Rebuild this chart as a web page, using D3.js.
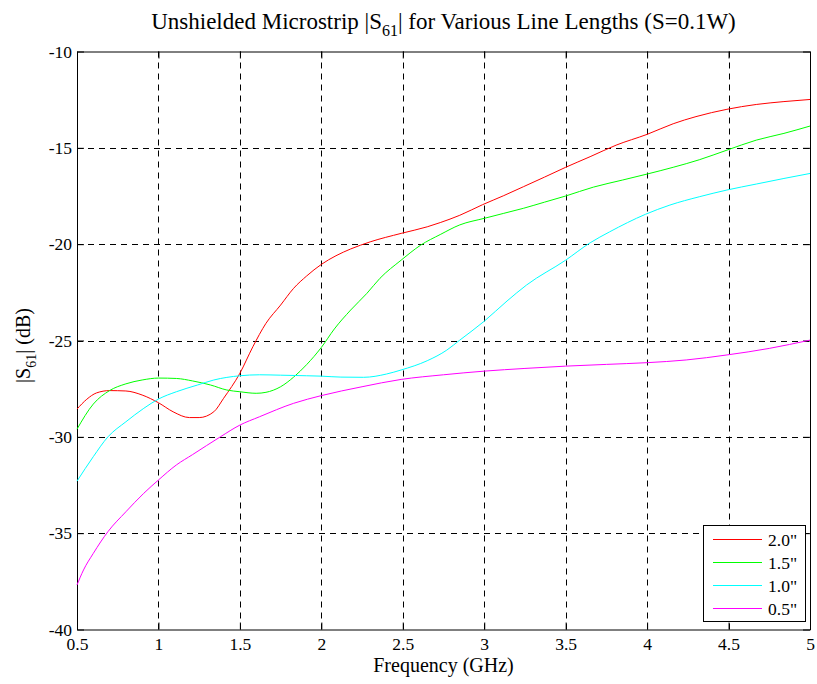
<!DOCTYPE html>
<html><head><meta charset="utf-8">
<script src="https://cdn.jsdelivr.net/npm/d3@7/dist/d3.min.js"></script>
<style>body{margin:0;background:#fff;} svg{display:block;font-family:"Liberation Serif","Times New Roman",serif;}</style>
</head><body><svg id="c" width="817" height="684"></svg>
<script>
const xTicks = [0.5,1,1.5,2,2.5,3,3.5,4,4.5,5];
const xTickLabels = ["0.5","1","1.5","2","2.5","3","3.5","4","4.5","5"];
const yTicks = [-40,-35,-30,-25,-20,-15,-10];
const yTickLabels = ["-40","-35","-30","-25","-20","-15","-10"];
const seriesNames = ['2.0"','1.5"','1.0"','0.5"'];
const seriesColors = ["#ff0000","#00ff00","#00ffff","#ff00ff"];

const f20 = [0.5,0.56,0.62,0.7,0.8,0.9,1.0,1.09,1.19,1.25,1.34,1.4,1.5,1.58,1.66,1.75,1.83,1.91,2.0,2.09,2.18,2.3,2.49,2.65,2.73,2.85,2.99,3.12,3.24,3.37,3.5,3.65,3.81,4.0,4.16,4.3,4.49,4.67,4.84,5.0];
const s20 = [-28.56,-28.05,-27.72,-27.6,-27.62,-27.83,-28.23,-28.7,-29.0,-29.0,-28.7,-28.0,-26.7,-25.32,-24.11,-23.16,-22.29,-21.65,-21.05,-20.6,-20.25,-19.88,-19.44,-19.1,-18.88,-18.5,-17.95,-17.48,-17.02,-16.52,-16.01,-15.46,-14.86,-14.3,-13.75,-13.38,-13.0,-12.75,-12.6,-12.49];

const f15 = [0.5,0.6,0.7,0.8,0.9,1.0,1.11,1.21,1.32,1.42,1.5,1.6,1.66,1.75,1.83,1.91,2.0,2.08,2.18,2.28,2.36,2.49,2.61,2.73,2.85,3.0,3.12,3.24,3.37,3.5,3.67,3.85,4.0,4.16,4.32,4.49,4.67,4.84,5.0];
const s15 = [-29.6,-28.3,-27.6,-27.25,-27.05,-26.95,-26.97,-27.1,-27.31,-27.57,-27.66,-27.74,-27.69,-27.4,-26.9,-26.25,-25.36,-24.4,-23.42,-22.55,-21.77,-20.83,-20.05,-19.5,-19.0,-18.66,-18.4,-18.14,-17.82,-17.5,-17.04,-16.67,-16.36,-16.01,-15.62,-15.12,-14.6,-14.25,-13.87];

const f10 = [0.5,0.6,0.69,0.8,0.91,1.0,1.11,1.24,1.34,1.5,1.62,1.75,1.91,2.0,2.12,2.26,2.4,2.49,2.65,2.77,2.85,3.0,3.14,3.26,3.5,3.65,3.77,3.99,4.14,4.32,4.49,4.67,4.84,5.0];
const s10 = [-32.3,-31.03,-30.0,-29.22,-28.52,-28.04,-27.66,-27.31,-27.05,-26.83,-26.78,-26.8,-26.83,-26.85,-26.9,-26.91,-26.74,-26.53,-26.05,-25.5,-24.98,-24.0,-22.95,-22.12,-20.83,-19.93,-19.36,-18.45,-17.97,-17.54,-17.19,-16.88,-16.59,-16.33];

const f05 = [0.5,0.54,0.6,0.69,0.8,0.91,1.0,1.11,1.21,1.38,1.5,1.62,1.83,2.0,2.25,2.49,2.75,3.0,3.25,3.5,3.75,4.0,4.24,4.49,4.75,5.0];
const s05 = [-37.69,-36.91,-36.05,-34.92,-33.89,-32.93,-32.24,-31.46,-30.92,-30.0,-29.39,-28.96,-28.26,-27.86,-27.4,-27.02,-26.78,-26.59,-26.45,-26.33,-26.24,-26.15,-26.01,-25.75,-25.41,-24.98];

const seriesX = [f20,f15,f10,f05];
const seriesY = [s20,s15,s10,s05];

const FONT = "'Liberation Serif','Times New Roman',serif";
const svg = d3.select("#c");
const L=77, R=810, T=51.5, B=629.5;
const x = d3.scaleLinear().domain([0.5,5]).range([L,R]);
const y = d3.scaleLinear().domain([-40,-10]).range([B,T]);

// grid
const g = svg.append("g");
g.selectAll(".vg").data(xTicks.slice(1,-1)).enter().append("line")
  .attr("x1",d=>Math.round(x(d))+0.5).attr("x2",d=>Math.round(x(d))+0.5)
  .attr("y1",T).attr("y2",B).attr("stroke","#000").attr("stroke-width",1).attr("stroke-dasharray","6,5");
g.selectAll(".hg").data(yTicks.slice(1,-1)).enter().append("line")
  .attr("y1",d=>Math.round(y(d))+0.5).attr("y2",d=>Math.round(y(d))+0.5)
  .attr("x1",L).attr("x2",R).attr("stroke","#000").attr("stroke-width",1).attr("stroke-dasharray","6,5");

// axes
const xAxisB = d3.axisBottom(x).tickValues(xTicks).tickFormat((d,i)=>xTickLabels[i]).tickSizeInner(-7).tickSizeOuter(0).tickPadding(8);
const xAxisT = d3.axisTop(x).tickValues(xTicks).tickFormat("").tickSizeInner(-7).tickSizeOuter(0);
const yAxisL = d3.axisLeft(y).tickValues(yTicks).tickFormat((d,i)=>yTickLabels[i]).tickSizeInner(-7).tickSizeOuter(0).tickPadding(5);
const yAxisR = d3.axisRight(y).tickValues(yTicks).tickFormat("").tickSizeInner(-7).tickSizeOuter(0);

function styleAxis(sel){
  sel.selectAll("path").attr("stroke","#000").attr("stroke-width",1);
  sel.selectAll("line").attr("stroke","#000").attr("stroke-width",1);
  sel.selectAll("text").attr("fill","#000").style("font-size","17.5px").style("font-family",FONT);
}
svg.append("g").attr("transform",`translate(0,${B})`).call(xAxisB).call(styleAxis);
svg.append("g").attr("transform",`translate(0,${T})`).call(xAxisT).call(styleAxis);
svg.append("g").attr("transform",`translate(${L},0)`).call(yAxisL).call(styleAxis);
svg.append("g").attr("transform",`translate(${R},0)`).call(yAxisR).call(styleAxis);

// lines
const line = d3.line().x(d=>x(d[0])).y(d=>y(d[1])).curve(d3.curveMonotoneX);
const plot = svg.append("g");
seriesX.forEach((xs,i)=>{
  const pts = xs.map((v,j)=>[v,seriesY[i][j]]);
  plot.append("path").datum(pts).attr("d",line).attr("fill","none")
    .attr("stroke",seriesColors[i]).attr("stroke-width",1);
});

// title
const title = svg.append("text").attr("x",(L+R)/2).attr("y",29).attr("text-anchor","middle")
  .style("font-size","23px").style("font-family",FONT).attr("fill","#000");
title.append("tspan").text("Unshielded Microstrip |S");
title.append("tspan").attr("dy",7).style("font-size","16px").text("61");
title.append("tspan").attr("dy",-7).text("| for Various Line Lengths (S=0.1W)");

// x label
svg.append("text").attr("x",(L+R)/2).attr("y",672).attr("text-anchor","middle")
  .style("font-size","20px").style("font-family",FONT).attr("fill","#000").text("Frequency (GHz)");

// y label
const yl = svg.append("text").attr("transform",`translate(30,${(T+B)/2+5}) rotate(-90)`).attr("text-anchor","middle")
  .style("font-size","20px").style("font-family",FONT).attr("fill","#000");
yl.append("tspan").text("|S");
yl.append("tspan").attr("dy",6).style("font-size","14px").text("61");
yl.append("tspan").attr("dy",-6).text("| (dB)");

// legend
const lg = svg.append("g");
lg.append("rect").attr("x",703.5).attr("y",525.5).attr("width",102).attr("height",96)
  .attr("fill","#fff").attr("stroke","#000").attr("stroke-width",1);
seriesNames.forEach((n,i)=>{
  const yy = 539.5 + i*23;
  lg.append("line").attr("x1",713).attr("x2",762).attr("y1",yy).attr("y2",yy)
    .attr("stroke",seriesColors[i]).attr("stroke-width",1);
  lg.append("text").attr("x",768).attr("y",yy+6).style("font-size","17.5px").style("font-family",FONT).attr("fill","#000").text(n);
});
</script></body></html>
